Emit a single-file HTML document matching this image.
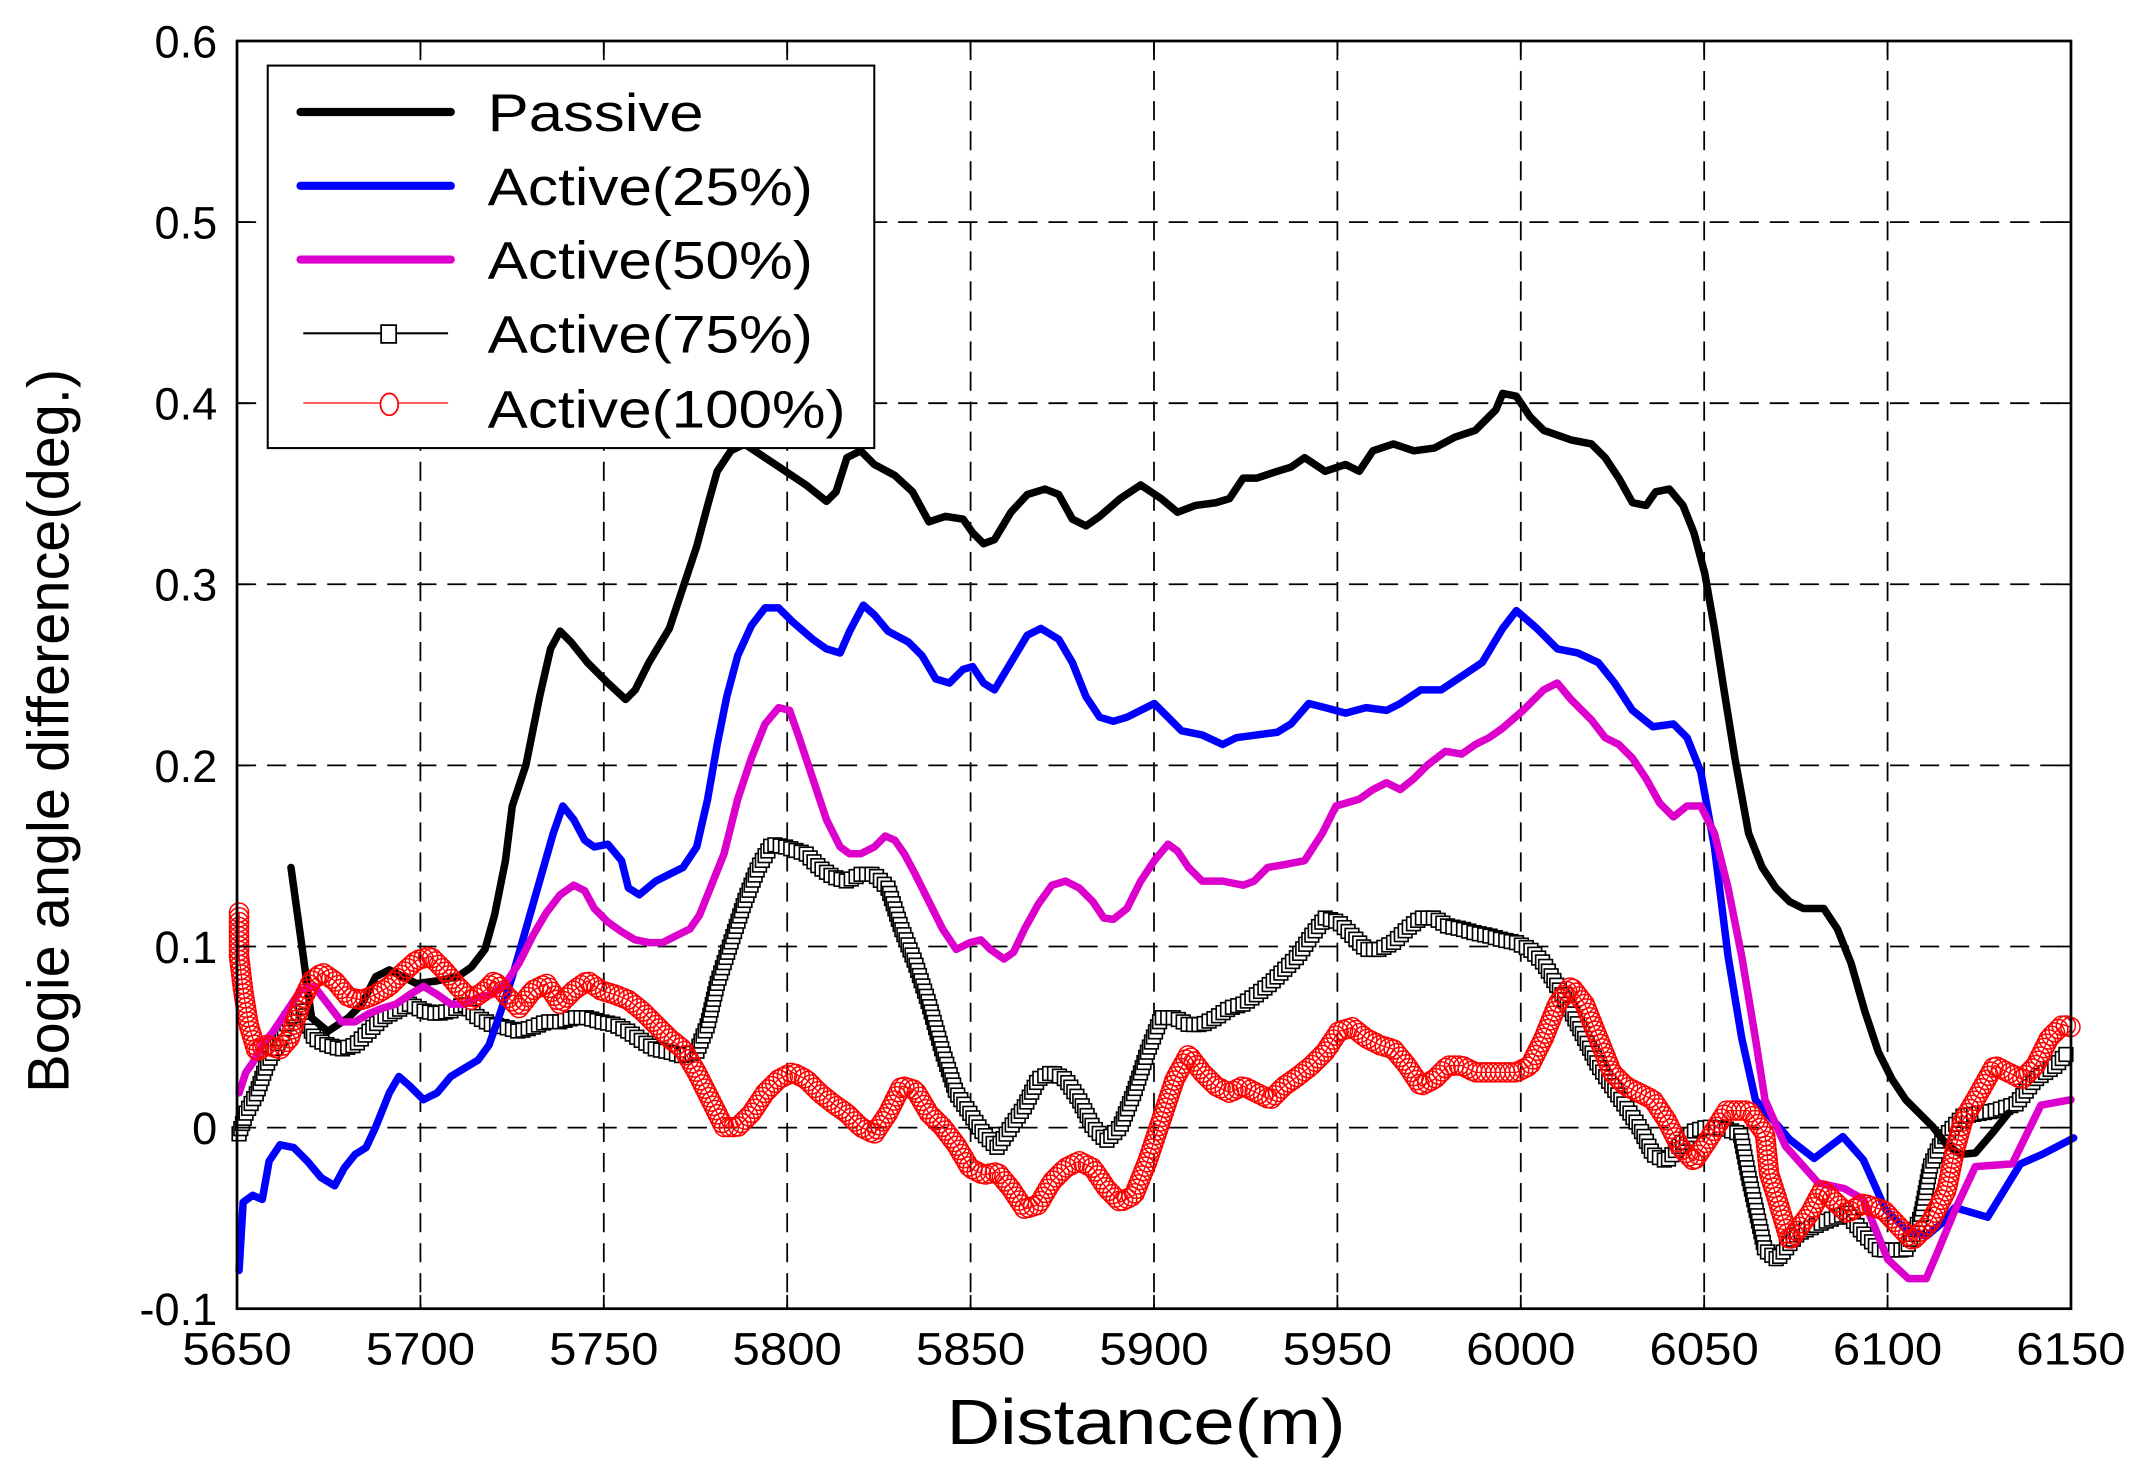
<!DOCTYPE html>
<html><head><meta charset="utf-8"><style>
html,body{margin:0;padding:0;background:#fff;}
svg{display:block;font-family:"Liberation Sans",Arial,sans-serif;}
</style></head><body>
<svg id="s" width="2142" height="1471" viewBox="0 0 1568 1076.8" xmlns="http://www.w3.org/2000/svg">
<rect x="0" y="0" width="1568" height="1077" fill="#fff"/>
<g id="grid" stroke="#000" stroke-width="1.3" stroke-dasharray="14,8" fill="none"></g>
<g id="series"></g>
<rect x="173.5" y="30" width="1342.5" height="928" fill="none" stroke="#000" stroke-width="2"/>
<g id="ticks" stroke="#000" stroke-width="1.3"></g>
<g id="labels" font-size="33" fill="#000"></g>
<text x="839" y="1057" font-size="47" textLength="292" lengthAdjust="spacingAndGlyphs" text-anchor="middle">Distance(m)</text>
<text transform="translate(50,535) rotate(-90)" font-size="43" text-anchor="middle" textLength="530" lengthAdjust="spacingAndGlyphs">Bogie angle difference(deg.)</text>
<g>
<rect x="196" y="48" width="444" height="280" fill="#fff" stroke="#000" stroke-width="1.5"/>
<line x1="220" y1="82" x2="330" y2="82" stroke="#000" stroke-width="6" stroke-linecap="round"/>
<line x1="220" y1="136" x2="330" y2="136" stroke="#0000ff" stroke-width="6" stroke-linecap="round"/>
<line x1="220" y1="190" x2="330" y2="190" stroke="#dd00cc" stroke-width="6" stroke-linecap="round"/>
<line x1="222" y1="244" x2="328" y2="244" stroke="#000" stroke-width="1.5"/>
<rect x="279" y="238" width="11" height="13" fill="#fff" stroke="#000" stroke-width="1.3"/>
<line x1="222" y1="295" x2="328" y2="295" stroke="#ff0000" stroke-width="1"/>
<ellipse cx="285" cy="296" rx="6.5" ry="8" fill="#fff" stroke="#ff0000" stroke-width="1.3"/>
<g font-size="39" lengthAdjust="spacingAndGlyphs">
<text x="357" y="96" textLength="158" lengthAdjust="spacingAndGlyphs">Passive</text>
<text x="357" y="150" textLength="238" lengthAdjust="spacingAndGlyphs">Active(25%)</text>
<text x="357" y="204" textLength="238" lengthAdjust="spacingAndGlyphs">Active(50%)</text>
<text x="357" y="258" textLength="238" lengthAdjust="spacingAndGlyphs">Active(75%)</text>
<text x="357" y="313" textLength="262" lengthAdjust="spacingAndGlyphs">Active(100%)</text>
</g>
</g>
</svg>
<script>
var NS="http://www.w3.org/2000/svg";
function el(t,a,p){var e=document.createElementNS(NS,t);for(var k in a)e.setAttribute(k,a[k]);p.appendChild(e);return e;}
var L=173.5,R=1516,T=30,B=958;
var g=document.getElementById('grid'),tk=document.getElementById('ticks'),lb=document.getElementById('labels');
for(var i=0;i<=10;i++){var x=L+(R-L)*i/10;
 if(i>0&&i<10)el('line',{x1:x,y1:T,x2:x,y2:B},g);
 el('line',{x1:x,y1:B,x2:x,y2:B-10},tk);el('line',{x1:x,y1:T,x2:x,y2:T+10},tk);
 var t=el('text',{x:x,y:999,'text-anchor':'middle',textLength:80,lengthAdjust:'spacingAndGlyphs'},lb);t.textContent=5650+50*i;}
var yl=["0.6","0.5","0.4","0.3","0.2","0.1","0","-0.1"];
for(var j=0;j<=7;j++){var y=T+(B-T)*j/7;
 if(j>0&&j<7)el('line',{x1:L,y1:y,x2:R,y2:y},g);
 el('line',{x1:L,y1:y,x2:L+10,y2:y},tk);el('line',{x1:R,y1:y,x2:R-10,y2:y},tk);
 var t=el('text',{x:159,y:y+12,'text-anchor':'end'},lb);t.textContent=yl[j];}
function P(a){var r=[];for(var i=0;i<a.length;i+=2)r.push([a[i],a[i+1]]);return r;}
var passive=P([213,635,222,700,228,745,240,755,255,745,265,735,275,715,285,710,295,715,305,720,320,718,335,715,345,708,355,695,362,670,370,630,375,590,385,560,395,510,403,475,410,462,418,470,430,485,445,500,458,512,465,505,475,485,490,460,500,430,510,400,518,370,525,345,535,330,545,325,560,335,575,345,590,355,605,367,612,360,620,335,630,330,640,340,655,348,668,360,680,382,692,378,705,380,712,390,720,398,728,395,740,375,752,362,765,358,775,362,785,380,795,385,805,378,820,365,835,355,850,365,862,375,875,370,890,368,900,365,910,350,920,350,935,345,945,342,955,335,970,345,985,340,995,345,1005,330,1020,325,1035,330,1050,328,1065,320,1080,315,1095,300,1100,288,1110,290,1120,305,1130,315,1150,322,1165,325,1175,335,1185,350,1195,368,1205,370,1212,360,1222,358,1232,370,1240,390,1248,420,1255,460,1262,505,1270,555,1280,610,1290,635,1300,650,1310,660,1320,665,1335,665,1345,680,1355,705,1365,740,1375,770,1385,790,1395,805,1405,815,1415,825,1425,838,1435,845,1446,844,1458,830,1470,815]);
var blue=P([175,930,178,880,185,875,192,878,197,850,205,838,215,840,225,850,235,862,245,868,252,855,260,845,268,840,275,825,285,800,292,788,300,795,310,805,320,800,330,788,340,782,350,776,358,765,365,745,375,715,385,680,395,645,405,610,412,590,420,600,428,615,435,620,445,618,455,630,460,650,468,655,480,645,490,640,500,635,510,620,518,585,525,545,532,510,540,480,550,458,560,445,570,445,580,455,595,468,605,475,615,478,622,462,632,443,640,450,650,462,665,470,675,480,685,497,695,500,705,490,712,488,720,500,728,505,740,485,752,465,762,460,775,468,785,485,795,510,805,525,815,528,825,525,835,520,845,515,855,525,865,535,880,538,895,545,905,540,920,538,935,536,945,530,958,515,970,518,985,522,1000,518,1015,520,1025,515,1040,505,1055,505,1070,495,1085,485,1100,460,1110,447,1125,460,1140,475,1155,478,1170,485,1182,500,1195,520,1210,532,1225,530,1235,540,1245,565,1255,620,1265,700,1275,760,1285,805,1310,834,1328,848,1349,832,1364,849,1373,869,1380,885,1395,900,1410,905,1422,895,1431,884,1455,891,1479,852,1495,845,1518,833]);
var mag=P([175,800,180,785,185,778,192,765,200,755,210,740,220,725,230,722,240,735,250,748,260,748,270,742,280,738,290,735,300,728,310,722,320,728,330,735,340,735,350,730,360,728,370,720,380,705,390,685,400,668,410,655,420,648,428,652,435,665,445,675,455,682,465,688,475,690,485,690,495,685,505,680,512,670,520,650,530,625,540,585,550,555,560,530,570,518,578,520,585,540,595,570,605,600,615,620,622,625,630,625,640,620,648,612,655,615,662,625,670,640,680,660,690,680,700,695,710,690,718,688,725,695,735,702,742,697,750,680,760,662,770,648,780,645,790,650,800,660,808,672,815,673,825,665,835,645,845,630,855,618,862,623,870,635,880,645,895,645,910,648,918,645,928,635,940,633,955,630,968,610,978,590,985,588,995,585,1005,578,1015,573,1025,578,1035,570,1045,560,1058,550,1070,552,1080,545,1090,540,1100,533,1115,520,1130,505,1140,500,1150,512,1165,527,1175,540,1185,545,1195,555,1205,570,1215,588,1225,598,1235,590,1245,590,1255,610,1265,650,1275,700,1285,760,1292,805,1307,839,1331,866,1350,870,1364,878,1382,922,1397,936,1410,936,1419,915,1431,886,1446,854,1473,852,1494,809,1516,805]);
var sq=P([175,830,180,815,188,800,195,780,205,760,212,745,222,740,230,760,240,765,250,768,260,765,270,755,280,745,290,740,300,735,310,740,320,742,330,740,340,735,350,745,360,750,370,752,380,755,390,752,400,748,410,748,420,745,430,745,440,748,450,750,460,755,470,762,480,768,490,770,500,773,510,770,518,750,525,720,535,690,545,660,555,635,565,618,575,620,590,625,600,635,610,642,620,645,630,640,640,640,650,650,660,680,670,705,680,735,690,770,700,800,710,815,720,830,730,840,740,825,750,810,760,790,770,785,780,790,790,805,800,825,810,835,820,825,830,800,840,770,850,745,860,745,870,750,880,750,890,745,900,738,910,735,920,728,930,720,940,710,950,700,960,685,970,672,980,675,990,685,1000,695,1010,695,1020,690,1030,680,1040,672,1050,672,1060,678,1070,680,1080,683,1090,685,1100,688,1110,690,1120,695,1130,705,1140,722,1150,740,1160,760,1170,780,1180,795,1190,810,1200,825,1210,845,1220,850,1230,838,1240,828,1250,825,1262,826,1274,830,1280,861,1286,888,1292,915,1301,922,1316,903,1334,895,1352,888,1364,903,1376,915,1395,915,1406,891,1413,854,1422,834,1437,817,1461,813,1476,808,1490,790,1505,780,1514,770]);
var red=P([175,668,175,700,178,725,182,750,188,770,195,765,205,768,212,760,220,735,228,718,236,712,245,718,255,730,265,732,275,728,285,722,295,712,305,703,315,700,325,710,335,722,345,732,355,725,362,718,370,728,380,738,390,725,400,720,410,735,420,725,430,718,440,725,450,728,460,732,470,740,480,750,490,760,500,768,510,785,520,805,530,825,540,825,550,815,560,800,570,790,580,785,590,790,600,800,610,808,620,815,630,825,640,830,650,815,660,795,670,798,680,815,690,825,700,838,710,855,720,860,730,858,740,870,750,885,760,882,770,865,780,855,790,850,800,855,810,870,820,880,830,875,840,850,850,820,860,790,870,772,880,785,890,795,900,800,910,795,920,800,930,805,940,795,950,788,960,780,970,770,980,755,990,752,1000,760,1010,765,1020,768,1030,780,1040,795,1050,790,1060,780,1070,780,1080,785,1090,785,1100,785,1110,785,1120,780,1130,760,1140,735,1150,722,1160,735,1170,760,1180,785,1190,795,1200,800,1210,805,1220,820,1230,840,1240,850,1250,835,1264,813,1280,813,1292,830,1295,859,1301,878,1310,908,1325,888,1334,871,1352,888,1364,881,1379,886,1395,903,1400,908,1413,895,1425,871,1431,842,1437,820,1446,805,1460,780,1470,785,1480,790,1490,780,1500,760,1510,750,1516,752]);
var sg=document.getElementById('series');
function line(pts,c,w){el('polyline',{points:pts.map(function(p){return p.join(',')}).join(' '),fill:'none',stroke:c,'stroke-width':w,'stroke-linejoin':'round','stroke-linecap':'round'},sg);}
function sample(pts,step){var out=[];var acc=0;out.push(pts[0]);for(var i=1;i<pts.length;i++){var a=pts[i-1],b=pts[i];var d=Math.hypot(b[0]-a[0],b[1]-a[1]);var t=step-acc;while(t<=d){out.push([a[0]+(b[0]-a[0])*t/d,a[1]+(b[1]-a[1])*t/d]);t+=step;}acc=d-(t-step);}return out;}
line(sq,'#000',1.2);
sample(sq,4).forEach(function(p){el('rect',{x:p[0]-5,y:p[1]-5,width:10,height:10,fill:'#fff',stroke:'#000','stroke-width':1.2},sg);});
line(passive,'#000',5.5);
line(blue,'#0000ff',5.5);
line(mag,'#dd00cc',5.5);
line(red,'#ff0000',1);
sample(red,3.5).forEach(function(p){el('circle',{cx:p[0],cy:p[1],r:7,fill:'none',stroke:'#ff0000','stroke-width':1.1},sg);});
</script>
</body></html>
